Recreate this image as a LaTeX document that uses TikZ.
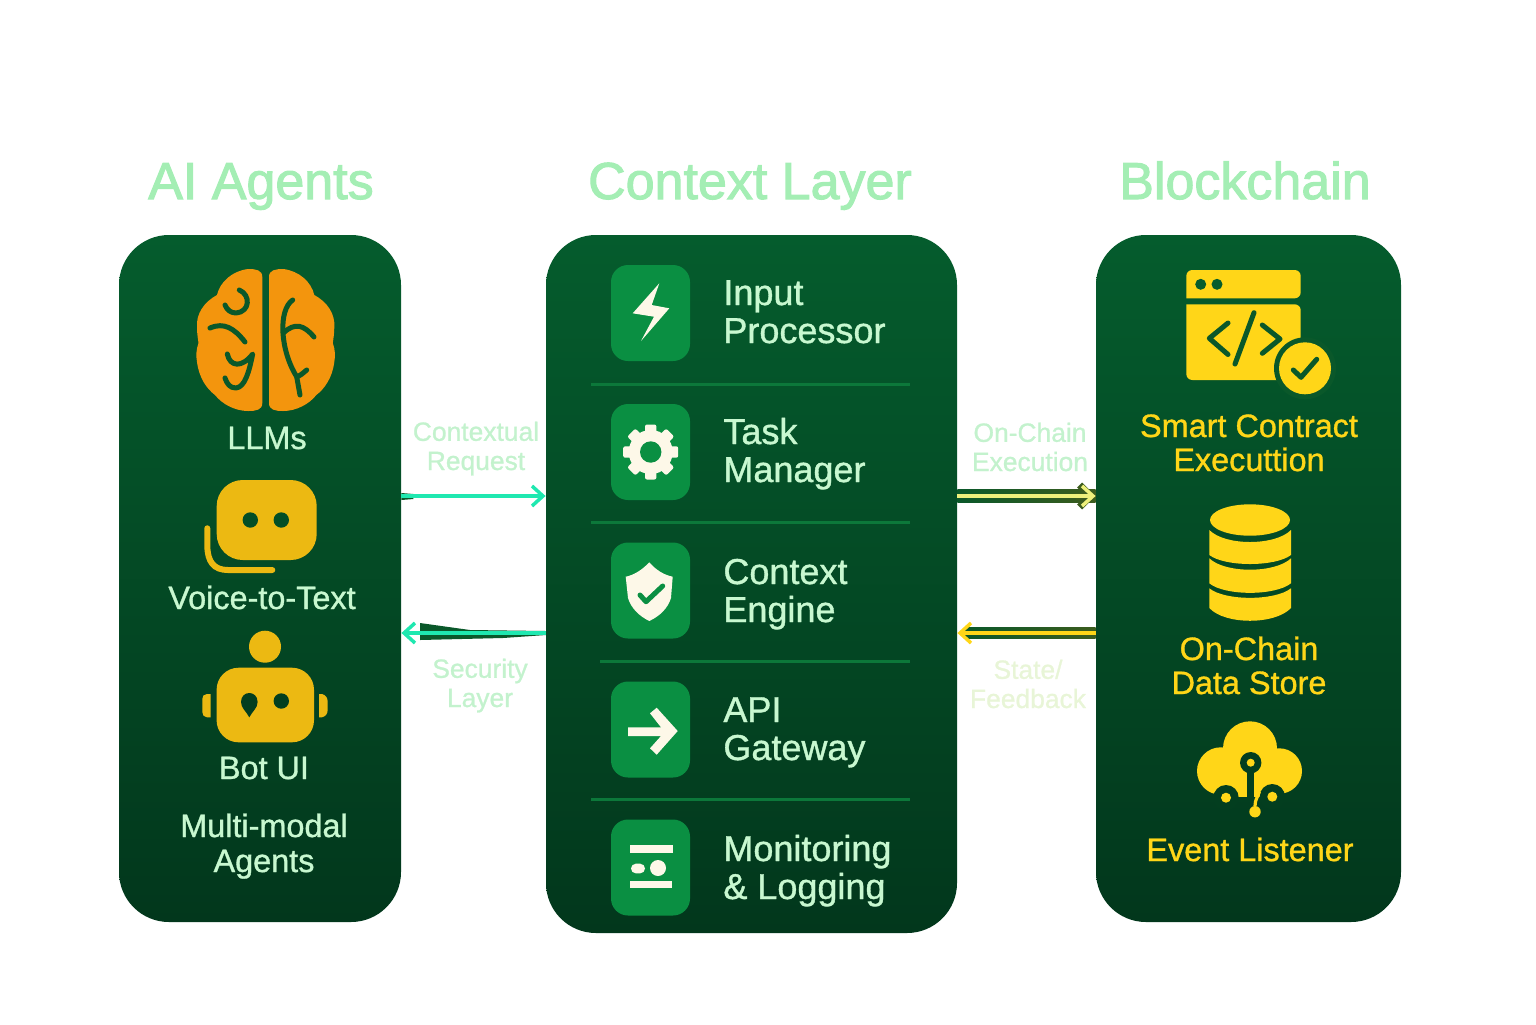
\documentclass[tikz,border=0pt]{standalone}
\usepackage{fontspec}
\setmainfont{Liberation Sans}
\newfontfamily\medfont[FakeBold=1]{Liberation Sans}
\newfontfamily\headfont[FakeBold=2]{Liberation Sans}
\usepackage{xcolor}
\usetikzlibrary{arrows.meta,calc}
\definecolor{agtop}{RGB}{5,92,45}
\definecolor{agbottom}{RGB}{2,55,28}
\definecolor{agmid}{RGB}{3,78,38}
\definecolor{agdeep}{RGB}{3,62,31}
\definecolor{agline}{RGB}{10,88,42}
\definecolor{agtile}{RGB}{10,143,66}
\definecolor{agrule}{RGB}{12,120,58}
\definecolor{agcream}{RGB}{253,248,232}
\definecolor{agmint}{RGB}{200,248,208}
\definecolor{agtitle}{RGB}{164,238,180}
\definecolor{agpale}{RGB}{195,242,205}
\definecolor{agivory}{RGB}{232,245,215}
\definecolor{agorange}{RGB}{243,149,13}
\definecolor{agamber}{RGB}{236,185,18}
\definecolor{aggold}{RGB}{255,214,24}
\definecolor{agteal}{RGB}{31,232,176}
\definecolor{aglemon}{RGB}{238,240,124}
\definecolor{agolive}{RGB}{60,92,30}
\tikzstyle{arrow} = [line width=1.75pt,-{Straight Barb[length=5.5pt,width=10pt]}]
\tikzstyle{halotip} = [line width=3.5pt,agolive,-{Straight Barb[length=5.5pt,width=11pt]}]

\begin{document}
\begin{tikzpicture}[x=0.5pt,y=-0.5pt,
    panel/.style={rectangle, rounded corners=25pt, inner sep=0pt, top color=agtop, bottom color=agbottom},
    tile/.style={rectangle, rounded corners=8.5pt, inner sep=0pt, minimum width=39.5pt, minimum height=48pt, fill=agtile},
    heading/.style={anchor=base, inner sep=0pt, font=\headfont\fontsize{26}{28}\selectfont, text=agtitle},
    rowlabel/.style={anchor=base west, inner sep=0pt, align=left, font=\medfont\fontsize{18}{19}\selectfont, text=agmint},
    agentlabel/.style={anchor=base, inner sep=0pt, align=center, font=\medfont\fontsize{16.2}{17.5}\selectfont, text=agmint},
    chainlabel/.style={anchor=base, inner sep=0pt, align=center, font=\medfont\fontsize{16.2}{17}\selectfont, text=aggold},
    flowlabel/.style={anchor=base, inner sep=0pt, align=center, font=\medfont\fontsize{13.2}{14.6}\selectfont, text=agpale},
    stroke/.style={line width=2.5pt, line cap=round, line join=round}]
\useasboundingbox (0,0) rectangle (1536,1024);

% Panels
\node[panel, minimum width=141pt, minimum height=343.5pt] (agents) at (260,578.5) {};
\node[panel, minimum width=205.5pt, minimum height=349pt] (context) at (751.5,584) {};
\node[panel, minimum width=152.5pt, minimum height=343.5pt] (chain) at (1248.5,578.5) {};

% Headings
\node[heading] (agentshead) at (261,199) {AI Agents};
\node[heading] (contexthead) at (750,199) {Context Layer};
\node[heading] (chainhead) at (1245,199) {Blockchain};

% Brain
\fill[agorange] (262.3,277) .. controls (262.3,270) and (256,269) .. (248,269) .. controls (232,271) and (220,282) .. (217,295) .. controls (204,302) and (196,314) .. (197,327) .. controls (197,334) and (198,339) .. (198.5,343) .. controls (196,350) and (196,356) .. (197,362) .. controls (199,378) and (207,389) .. (215,395) .. controls (222,404) and (235,411) .. (248,411) .. controls (256,411) and (262.3,410) .. (262.3,403) -- cycle;
\fill[agorange] (269,277) .. controls (269,270) and (275.3,269) .. (283.3,269) .. controls (299.3,271) and (311.3,282) .. (314.3,295) .. controls (327.3,302) and (335.3,314) .. (334.3,327) .. controls (334.3,334) and (333.3,339) .. (332.8,343) .. controls (335.3,350) and (335.3,356) .. (334.3,362) .. controls (332.3,378) and (324.3,389) .. (316.3,395) .. controls (309.3,404) and (296.3,411) .. (283.3,411) .. controls (275.3,411) and (269,410) .. (269,403) -- cycle;
\draw[stroke, agline] (239.3,290) .. controls (251,295) and (250,312) .. (236,313) .. controls (231,313) and (227,310) .. (225,305);
\draw[stroke, agline] (210,328) .. controls (224,322) and (234,328) .. (245,342);
\draw[stroke, agline] (227.3,354) .. controls (230,367) and (242,368) .. (252.7,354) .. controls (249,372) and (245,387) .. (236,388) .. controls (230,388) and (227,384) .. (225,378);
\draw[stroke, agline] (292.7,300) .. controls (278,310) and (280,350) .. (296.7,376.7) -- (300,395);
\draw[stroke, agline] (283.3,333) .. controls (295,322) and (304,325) .. (314,337);
\draw[stroke, agline] (296.7,376.7) .. controls (300,376) and (303,373) .. (306.7,370);
\node[agentlabel] (llms) at (267,449) {LLMs};

% Voice bubble
\node[rectangle, rounded corners=13pt, inner sep=0pt, minimum width=50pt, minimum height=40pt, fill=agamber] (bubble) at (266.7,520) {};
\fill[agmid] (250.3,520) circle[radius=7.7];
\fill[agmid] (281.3,520) circle[radius=7.7];
\draw[line width=3pt, line cap=round, agamber] (207.3,528.3) -- (207.3,545) .. controls (207.3,562) and (214,570) .. (228,570) -- (272.3,570);
\node[agentlabel] (voice) at (262,609) {Voice-to-Text};

% Bot
\fill[agamber] (265,646.7) circle[radius=16];
\node[rectangle, rounded corners=11pt, inner sep=0pt, minimum width=48.7pt, minimum height=37.3pt, fill=agamber] (bothead) at (265.3,705) {};
\fill[agamber] (210.7,694) -- (207,694) .. controls (204,694) and (202.3,696) .. (202.3,699) -- (202.3,712) .. controls (202.3,715) and (204,717.3) .. (207,717.3) -- (210.7,717.3) -- cycle;
\fill[agamber] (319,694) -- (322,694) .. controls (326,695) and (327.7,698) .. (327.7,702) -- (327.7,709) .. controls (327.7,714) and (326,716) .. (322,717.3) -- (319,717.3) -- cycle;
\fill[agdeep] (281.3,701) circle[radius=7.7];
\fill[agdeep] (249.3,717.3) .. controls (246,711) and (241,708) .. (241,702) .. controls (241,690) and (257.6,690) .. (257.6,702) .. controls (257.6,708) and (252.6,711) .. (249.3,717.3) -- cycle;
\node[agentlabel] (botui) at (264,779) {Bot UI};
\node[agentlabel] (multimodal) at (264,872) {Multi-modal\\Agents};

% Context rows
\foreach \y/\b/\n/\t in {313/343/input/Input\\Processor, 452/482/task/Task\\Manager, 590.5/622/engine/Context\\Engine, 729.5/760/gateway/API\\Gateway, 867.5/899/monitor/Monitoring\\\& Logging} {
  \node[tile] (tile\n) at (650.5,\y) {};
  \node[rowlabel] (label\n) at (723,\b) {\t};
}
\draw[line width=1.5pt, agrule] (591,384) -- (910,384);
\draw[line width=1.5pt, agrule] (591,522) -- (910,522);
\draw[line width=1.5pt, agrule] (600,661) -- (910,661);
\draw[line width=1.5pt, agrule] (591,799) -- (910,799);

% Tile icons
\fill[agcream] (659.3,283.3) -- (632.7,313.3) -- (654,316.7) -- (641,341) -- (669.3,308.3) -- (651.7,305) -- cycle;
\fill[agcream] (650.7,452) circle[radius=22];
\foreach \a in {0,45,...,315}
  \fill[agcream, rotate around={\a:(650.7,452)}, rounded corners=1pt] (645,452) rectangle (656.4,424.5);
\fill[agtile] (650.7,452) circle[radius=10.7];
\fill[agcream] (649.3,562.3) .. controls (656,570) and (664,575) .. (672.7,576.7) -- (671,598) .. controls (668,608) and (660,616) .. (649.3,621) .. controls (639,616) and (631,608) .. (628,598) -- (625.7,576.7) .. controls (634,575) and (642,570) .. (649.3,562.3) -- cycle;
\draw[stroke, agtile] (640,595) -- (646,601.7) -- (662.7,586);
\fill[agcream] (656.7,707.7) -- (677.7,731) -- (656.7,754.7) -- (650,748.3) -- (661,736) -- (628,736) -- (628,727.3) -- (661,727.3) -- (650,713.3) -- cycle;
\fill[agcream] (630,845.3) rectangle (673,853);
\fill[agcream, rounded corners=2.4pt] (631,863.7) rectangle (645,873.3);
\fill[agcream] (658,868) circle[radius=8];
\fill[agcream] (630,880.7) rectangle (672,888);

% Smart contract
\fill[aggold, rounded corners=3pt] (1186.3,298.3) -- (1186.3,270) -- (1300.7,270) -- (1300.7,298.3) [sharp corners] -- cycle;
\fill[agtop] (1200.7,284.3) circle[radius=5.5];
\fill[agtop] (1217,284.3) circle[radius=5.5];
\fill[aggold, rounded corners=3pt] (1186.3,304.3) -- (1186.3,380) -- (1300.7,380) -- (1300.7,304.3) [sharp corners] -- cycle;
\draw[stroke, agline] (1228,323) -- (1209.3,338.3) -- (1228,354.5);
\draw[stroke, agline] (1262.3,325) -- (1280,339) -- (1262.3,353.3);
\draw[stroke, agline] (1254,312.7) -- (1235,364);
\fill[agline] (1305,368.3) circle[radius=31];
\fill[aggold] (1305,368.3) circle[radius=26];
\draw[stroke, agline] (1293.3,370) -- (1301,377.3) -- (1316.7,359.3);
\node[chainlabel] (contract) at (1249,471) {Smart Contract\\Executtion};

% Data store
\fill[aggold] (1250,520) ellipse[x radius=40, y radius=15.7];
\fill[aggold] (1209.3,530) .. controls (1225,546) and (1275,546) .. (1291,530) -- (1291,555) .. controls (1275,567) and (1225,567) .. (1209.3,555) -- cycle;
\fill[aggold] (1209.3,558.3) .. controls (1225,573.5) and (1275,573.5) .. (1291,558.3) -- (1291,583.3) .. controls (1275,596) and (1225,596) .. (1209.3,583.3) -- cycle;
\fill[aggold] (1209.3,588.3) .. controls (1225,601) and (1275,601) .. (1291,588.3) -- (1291,608) .. controls (1275,625) and (1225,625) .. (1209.3,608) -- cycle;
\node[chainlabel] (store) at (1249,694) {On-Chain\\Data Store};

% Event cloud
\fill[aggold] (1220.7,771) circle[radius=23.7];
\fill[aggold] (1279.3,771) circle[radius=22.7];
\fill[aggold] (1250,748.3) circle[radius=27];
\fill[aggold] (1218,755) rectangle (1282,796.7);
\fill[agdeep] (1226,797.7) circle[radius=12.7];
\fill[agdeep] (1272.3,796.7) circle[radius=12.7];
\fill[aggold] (1226,797.7) circle[radius=5];
\fill[aggold] (1272.3,796.7) circle[radius=5];
\fill[agdeep] (1250.7,762.7) circle[radius=10.7];
\fill[aggold] (1250.7,762.7) circle[radius=4];
\draw[line width=3.3pt, agdeep] (1250.7,770) -- (1250.7,798);
\draw[line width=1.6pt, aggold] (1259.3,791.7) .. controls (1258,797) and (1255,799) .. (1255,806);
\fill[aggold] (1255,811.7) circle[radius=5.7];
\node[chainlabel] (listener) at (1250,861) {Event Listener};

% Flow arrows
\coordinate (upper) at (0,496);
\coordinate (lower) at (0,633);
\fill[agline] (agents.east |- upper) ++(0,-3) -- ++(12,1) -- ++(0,5) -- ++(-12,1) -- cycle;
\draw[arrow, agteal] (agents.east |- upper) -- (context.west |- upper);
\fill[agline] (420,623) -- (470,630) -- (546,631) -- (546,635) -- (503,638) -- (420,640) -- cycle;
\draw[arrow, agteal] (context.west |- lower) -- (agents.east |- lower);
\shade[left color=agline, right color=agolive] ($(context.east |- upper)+(0,-6.5)$) rectangle ($(chain.west |- upper)+(0,6.5)$);
\draw[halotip] ($(chain.west |- upper)+(-20,0)$) -- (chain.west |- upper);
\draw[arrow, aglemon] (context.east |- upper) -- (chain.west |- upper);
\shade[left color=agline, right color=agolive] ($(context.east |- lower)+(8,-6)$) rectangle ($(chain.west |- lower)+(0,5.5)$);
\draw[arrow, aggold] (chain.west |- lower) -- (context.east |- lower);

% Flow labels
\node[flowlabel] (request) at (476,470) {Contextual\\Request};
\node[flowlabel] (security) at (480,707) {Security\\Layer};
\node[flowlabel] (execution) at (1030,471) {On-Chain\\Execution};
\node[flowlabel, text=agivory] (feedback) at (1028,708) {State/\\Feedback};
\end{tikzpicture}
\end{document}
